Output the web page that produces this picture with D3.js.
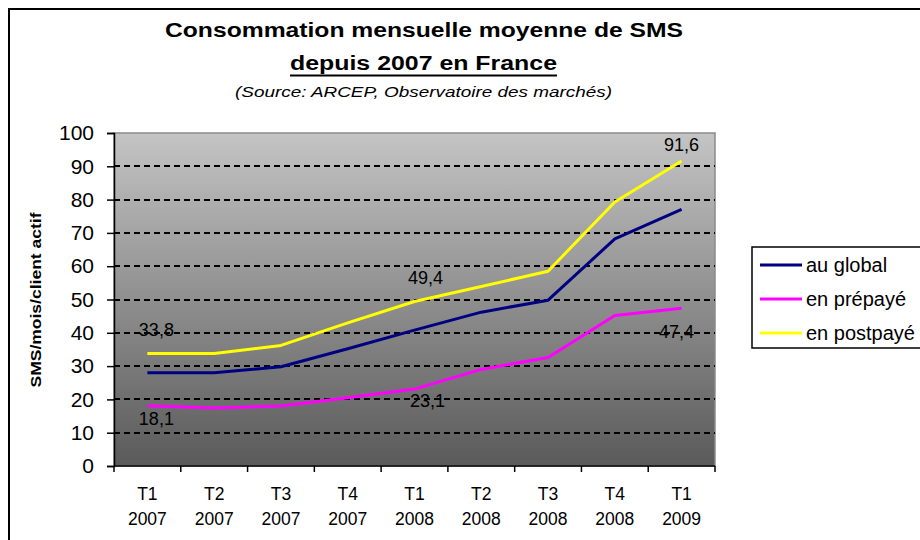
<!DOCTYPE html>
<html>
<head>
<meta charset="utf-8">
<script src="https://cdn.jsdelivr.net/npm/d3@7"></script>
<style>
  body { margin: 0; background: #fff; }
  text { font-family: "Liberation Sans", Arial, sans-serif; }
</style>
</head>
<body>
<div id="chart"></div>
<script>
// categories (two-line labels)
var quarters = ["T1", "T2", "T3", "T4", "T1", "T2", "T3", "T4", "T1"];
var years = ["2007", "2007", "2007", "2007", "2008", "2008", "2008", "2008", "2009"];

// series values (SMS / mois / client actif)
var global = [28.0, 28.0, 29.8, 35.2, 40.8, 46.2, 49.8, 68.2, 77.1];
var prepaye = [18.1, 17.4, 18.0, 20.5, 23.1, 29.0, 32.6, 45.2, 47.4];
var postpaye = [33.8, 33.8, 36.2, 43.0, 49.4, 53.9, 58.5, 79.3, 91.6];

var seriesNames = ["au global", "en prépayé", "en postpayé"];
var yTicks = [0, 10, 20, 30, 40, 50, 60, 70, 80, 90, 100];

var series = [global, prepaye, postpaye];
var colors = ["#000080", "#ff00ff", "#ffff00"];

// svg
var svgWidth = 920, svgHeight = 540;
var plot = { left: 114, right: 715, top: 133, bottom: 466 };

var svg = d3.select("#chart").append("svg")
  .attr("width", svgWidth)
  .attr("height", svgHeight);

// outer frame (cut at right and bottom like the picture)
svg.append("path")
  .attr("d", "M9,545 L9,9 L925,9")
  .attr("fill", "none")
  .attr("stroke", "#000")
  .attr("stroke-width", 2);

// titles
svg.append("text")
  .attr("x", 424).attr("y", 37)
  .attr("text-anchor", "middle")
  .attr("font-size", 20).attr("font-weight", "bold")
  .attr("textLength", 518).attr("lengthAdjust", "spacingAndGlyphs")
  .text("Consommation mensuelle moyenne de SMS");

svg.append("text")
  .attr("x", 423.5).attr("y", 70)
  .attr("text-anchor", "middle")
  .attr("font-size", 20).attr("font-weight", "bold")
  .attr("textLength", 267).attr("lengthAdjust", "spacingAndGlyphs")
  .text("depuis 2007 en France");

svg.append("line")
  .attr("x1", 290).attr("x2", 557)
  .attr("y1", 75.5).attr("y2", 75.5)
  .attr("stroke", "#000").attr("stroke-width", 2);

svg.append("text")
  .attr("x", 423.5).attr("y", 97)
  .attr("text-anchor", "middle")
  .attr("font-size", 14.5).attr("font-style", "italic")
  .attr("textLength", 377).attr("lengthAdjust", "spacingAndGlyphs")
  .text("(Source: ARCEP, Observatoire des marchés)");

// scales
var x = d3.scaleBand()
  .domain(d3.range(quarters.length))
  .range([plot.left, plot.right]);

var y = d3.scaleLinear()
  .domain([0, 100])
  .range([plot.bottom, plot.top]);

var cx = function(i) { return x(i) + x.bandwidth() / 2; };

// plot background gradient
var defs = svg.append("defs");
var grad = defs.append("linearGradient")
  .attr("id", "bg")
  .attr("x1", 0).attr("y1", 0).attr("x2", 0).attr("y2", 1);
grad.append("stop").attr("offset", "0%").attr("stop-color", "#c4c4c4");
grad.append("stop").attr("offset", "100%").attr("stop-color", "#5a5a5a");

svg.append("rect")
  .attr("x", plot.left).attr("y", plot.top)
  .attr("width", plot.right - plot.left)
  .attr("height", plot.bottom - plot.top)
  .attr("fill", "url(#bg)")
  .attr("stroke", "#8a8a8a")
  .attr("stroke-width", 1.5);

// dashed gridlines
svg.append("g")
  .selectAll("line")
  .data(yTicks.filter(function(d) { return d > 0 && d < 100; }))
  .enter()
  .append("line")
  .attr("x1", plot.left).attr("x2", plot.right)
  .attr("y1", function(d) { return Math.round(y(d)); })
  .attr("y2", function(d) { return Math.round(y(d)); })
  .attr("stroke", "#000")
  .attr("stroke-width", 2)
  .attr("stroke-dasharray", "6,4");

// y axis
var leftAxis = d3.axisLeft(y)
  .tickValues(yTicks)
  .tickSize(7)
  .tickPadding(13)
  .tickFormat(d3.format("d"));

var gy = svg.append("g")
  .attr("transform", "translate(" + plot.left + ",0)")
  .call(leftAxis);
gy.select(".domain").attr("stroke", "#000").attr("stroke-width", 1.5);
gy.selectAll(".tick line").attr("stroke", "#000").attr("stroke-width", 1.5);
gy.selectAll(".tick text")
  .attr("font-family", "Liberation Sans, Arial, sans-serif")
  .attr("font-size", 21)
  .attr("fill", "#000");

// x axis line and ticks at category boundaries
svg.append("line")
  .attr("x1", plot.left).attr("x2", plot.right)
  .attr("y1", plot.bottom).attr("y2", plot.bottom)
  .attr("stroke", "#000").attr("stroke-width", 1.5);

svg.append("g")
  .selectAll("line")
  .data(d3.range(quarters.length + 1))
  .enter()
  .append("line")
  .attr("x1", function(i) { return i < quarters.length ? x(i) : plot.right; })
  .attr("x2", function(i) { return i < quarters.length ? x(i) : plot.right; })
  .attr("y1", plot.bottom)
  .attr("y2", plot.bottom + 6)
  .attr("stroke", "#000").attr("stroke-width", 1.5);

var xLabels = svg.append("g")
  .selectAll("text")
  .data(quarters)
  .enter()
  .append("text")
  .attr("text-anchor", "middle")
  .attr("font-size", 17.5)
  .attr("x", function(d, i) { return cx(i); });
xLabels.append("tspan")
  .attr("x", function(d, i) { return cx(i); })
  .attr("y", 500)
  .text(function(d) { return d; });
xLabels.append("tspan")
  .attr("x", function(d, i) { return cx(i); })
  .attr("y", 525)
  .text(function(d, i) { return years[i]; });

// y axis title
svg.append("text")
  .attr("transform", "translate(40.5,300) rotate(-90)")
  .attr("text-anchor", "middle")
  .attr("font-size", 15).attr("font-weight", "bold")
  .attr("textLength", 175).attr("lengthAdjust", "spacingAndGlyphs")
  .text("SMS/mois/client actif");

// lines
var line = d3.line()
  .x(function(d, i) { return cx(i); })
  .y(function(d) { return y(d); });

svg.append("g")
  .selectAll("path")
  .data(series)
  .enter()
  .append("path")
  .attr("d", line)
  .attr("fill", "none")
  .attr("stroke", function(d, i) { return colors[i]; })
  .attr("stroke-width", 3)
  .attr("stroke-linejoin", "round");

// data labels (series index, point index, offset from the point)
var labelPlacement = [
  { s: 2, i: 0, dx: 9, dy: -17 },
  { s: 1, i: 0, dx: 9, dy: 19 },
  { s: 2, i: 4, dx: 11, dy: -17 },
  { s: 1, i: 4, dx: 13, dy: 18 },
  { s: 2, i: 8, dx: 0, dy: -10 },
  { s: 1, i: 8, dx: -5, dy: 30 }
];

svg.append("g")
  .selectAll("text")
  .data(labelPlacement)
  .enter()
  .append("text")
  .attr("text-anchor", "middle")
  .attr("font-size", 18)
  .attr("fill", "#000")
  .attr("x", function(d) { return cx(d.i) + d.dx; })
  .attr("y", function(d) { return y(series[d.s][d.i]) + d.dy; })
  .text(function(d) { return d3.format(".1f")(series[d.s][d.i]).replace(".", ","); });

// legend
var legend = svg.append("g");
legend.append("rect")
  .attr("x", 752).attr("y", 247)
  .attr("width", 180).attr("height", 101)
  .attr("fill", "#fff")
  .attr("stroke", "#000")
  .attr("stroke-width", 1.5);

var items = legend.selectAll("g")
  .data(seriesNames)
  .enter()
  .append("g")
  .attr("transform", function(d, i) { return "translate(0," + (265 + i * 34) + ")"; });

items.append("line")
  .attr("x1", 760).attr("x2", 802)
  .attr("y1", 0).attr("y2", 0)
  .attr("stroke", function(d, i) { return colors[i]; })
  .attr("stroke-width", 3);

items.append("text")
  .attr("x", 806).attr("y", 7)
  .attr("font-size", 20)
  .text(function(d) { return d; });
</script>
</body>
</html>
